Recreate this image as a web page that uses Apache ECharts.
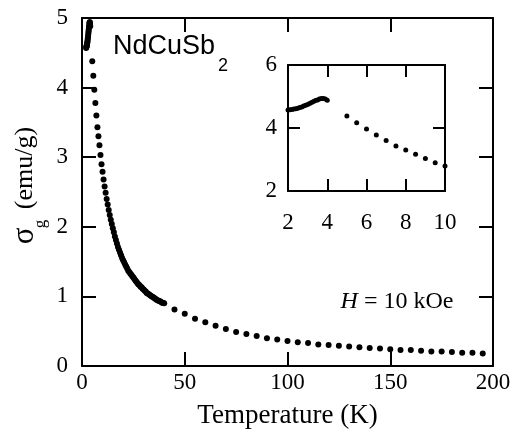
<!DOCTYPE html>
<html>
<head>
<meta charset="utf-8">
<script src="https://cdn.jsdelivr.net/npm/echarts@6/dist/echarts.min.js"></script>
<style>
html,body{margin:0;padding:0;background:#fff;}
#chart{width:519px;height:434px;}
</style>
</head>
<body>
<div id="chart"></div>
<script>
// Temperature (K) and magnetization sigma_g (emu/g)
const tempLow = [2.0,2.1,2.2,2.3,2.4,2.5,2.6,2.7,2.8,2.9,3.0,3.1,3.2,3.3,3.4,3.5,3.6,3.7,3.8,3.9,4.0];
const sigmaLow = [4.57,4.58,4.59,4.60,4.61,4.63,4.65,4.67,4.70,4.72,4.75,4.78,4.81,4.84,4.87,4.89,4.92,4.94,4.94,4.92,4.88];
const tempMid = [5,5.5,6,6.5,7,7.5,8,8.5,9,9.5,10];
const sigmaMid = [4.38,4.17,3.97,3.78,3.60,3.43,3.30,3.17,3.03,2.90,2.79];
const tempCurve = [10.5,11,11.5,12,12.5,13,13.5,14,14.5,15,15.5,16,16.5,17,17.5,18,18.5,19,19.5,20,
  20.5,21,21.5,22,22.5,23,23.5,24,24.5,25,25.5,26,26.5,27,27.5,28,28.5,29,29.5,30,
  30.5,31,31.5,32,32.5,33,33.5,34,34.5,35,35.5,36,36.5,37,37.5,38,38.5,39,39.5,40];
const sigmaCurve = [2.68,2.58,2.49,2.40,2.32,2.24,2.17,2.10,2.04,1.98,1.92,1.86,1.81,1.76,1.71,1.67,1.63,1.59,1.55,1.52,
  1.49,1.46,1.43,1.40,1.37,1.35,1.33,1.31,1.29,1.27,1.25,1.23,1.21,1.19,1.17,1.16,1.14,1.13,1.11,1.10,
  1.08,1.07,1.05,1.04,1.03,1.02,1.01,1.00,0.99,0.98,0.97,0.96,0.95,0.94,0.935,0.93,0.92,0.91,0.905,0.90];
const tempTail = [45,50,55,60,65,70,75,80,85,90,95,100,105,110,115,120,125,130,135,140,145,150,155,160,165,170,175,180,185,190,195];
const sigmaTail = [0.81,0.75,0.68,0.63,0.58,0.53,0.49,0.46,0.43,0.40,0.38,0.36,0.34,0.33,0.31,0.30,0.29,0.28,0.27,0.26,0.25,0.24,0.23,0.23,0.22,0.21,0.21,0.20,0.19,0.19,0.18];

const mainXTicks = [0,50,100,150,200];
const mainYTicks = [0,1,2,3,4,5];
const insetXTicks = [2,4,6,8,10];
const insetYTicks = [2,4,6];

const allT = tempLow.concat(tempMid, tempCurve, tempTail);
const allS = sigmaLow.concat(sigmaMid, sigmaCurve, sigmaTail);
const mainData = allT.map((t,i)=>[t, allS[i]]);
const insetData = mainData.filter(d => d[0] <= 10);

const serif = 'Liberation Serif';
const black = '#000';

function axisBase(extra){
  return Object.assign({
    type:'value',
    axisLine:{show:true, onZero:false, lineStyle:{color:black, width:2}},
    axisTick:{show:true, inside:true, length:14, lineStyle:{color:black, width:2}},
    splitLine:{show:false},
    axisLabel:{show:true, color:black, fontFamily:serif, fontSize:23},
  }, extra);
}

const chart = echarts.init(document.getElementById('chart'), null, {renderer:'canvas'});
const option = {
  animation:false,
  backgroundColor:'#fff',
  textStyle:{fontFamily:serif},
  grid:[
    {left:82, top:18, width:411, height:348},
    {left:288, top:65, width:157, height:126}
  ],
  xAxis:[
    axisBase({gridIndex:0, position:'bottom', min:mainXTicks[0], max:mainXTicks[mainXTicks.length-1], interval:50,
      axisLabel:{color:black, fontFamily:serif, fontSize:23, margin:5},
      name:'Temperature (K)', nameLocation:'middle', nameGap:36,
      nameTextStyle:{color:black, fontFamily:serif, fontSize:27}}),
    axisBase({gridIndex:0, position:'top', min:0, max:200, interval:50, axisLabel:{show:false}}),
    axisBase({gridIndex:1, position:'bottom', min:insetXTicks[0], max:insetXTicks[insetXTicks.length-1], interval:2,
      axisTick:{show:true, inside:true, length:12, lineStyle:{color:black, width:2}},
      axisLabel:{color:black, fontFamily:serif, fontSize:23, margin:20}}),
    axisBase({gridIndex:1, position:'top', min:2, max:10, interval:2,
      axisTick:{show:true, inside:true, length:12, lineStyle:{color:black, width:2}},
      axisLabel:{show:false}})
  ],
  yAxis:[
    axisBase({gridIndex:0, position:'left', min:mainYTicks[0], max:mainYTicks[mainYTicks.length-1], interval:1,
      axisLabel:{color:black, fontFamily:serif, fontSize:23, margin:14}}),
    axisBase({gridIndex:0, position:'right', min:0, max:5, interval:1, axisLabel:{show:false}}),
    axisBase({gridIndex:1, position:'left', min:insetYTicks[0], max:insetYTicks[insetYTicks.length-1], interval:2,
      axisTick:{show:true, inside:true, length:12, lineStyle:{color:black, width:2}},
      axisLabel:{color:black, fontFamily:serif, fontSize:23, margin:11}}),
    axisBase({gridIndex:1, position:'right', min:2, max:6, interval:2,
      axisTick:{show:true, inside:true, length:12, lineStyle:{color:black, width:2}},
      axisLabel:{show:false}})
  ],
  series:[
    {type:'scatter', xAxisIndex:0, yAxisIndex:0, data:mainData, symbol:'circle', symbolSize:6,
      itemStyle:{color:black, opacity:1}, silent:true},
    {type:'scatter', xAxisIndex:2, yAxisIndex:2, data:insetData, symbol:'circle', symbolSize:5,
      itemStyle:{color:black, opacity:1}, silent:true, clip:false}
  ],
  graphic:[
    {type:'text', left:113, top:33, style:{
      text:'NdCuSb', font:'27px "Liberation Sans", Arial, sans-serif', fill:black}},
    {type:'text', left:218, top:57, style:{
      text:'2', font:'18px "Liberation Sans", Arial, sans-serif', fill:black}},
    {type:'text', x:397, y:302, style:{
      text:'{i|H} = 10 kOe', fill:black, align:'center', verticalAlign:'middle',
      font:'24px "Liberation Serif", serif',
      rich:{i:{fontStyle:'italic', fontFamily:'Liberation Serif', fontSize:24, fill:black}}}},
    {type:'text', x:25, y:236, rotation:Math.PI/2, style:{
      text:'σ', fill:black, align:'center', verticalAlign:'middle', font:'31px "Liberation Serif", serif'}},
    {type:'text', x:41, y:224, rotation:Math.PI/2, style:{
      text:'g', fill:black, align:'center', verticalAlign:'middle', font:'17px "Liberation Serif", serif'}},
    {type:'text', x:25, y:168, rotation:Math.PI/2, style:{
      text:'(emu/g)', fill:black, align:'center', verticalAlign:'middle', font:'26px "Liberation Serif", serif'}}
  ]
};
chart.setOption(option);
</script>
</body>
</html>
